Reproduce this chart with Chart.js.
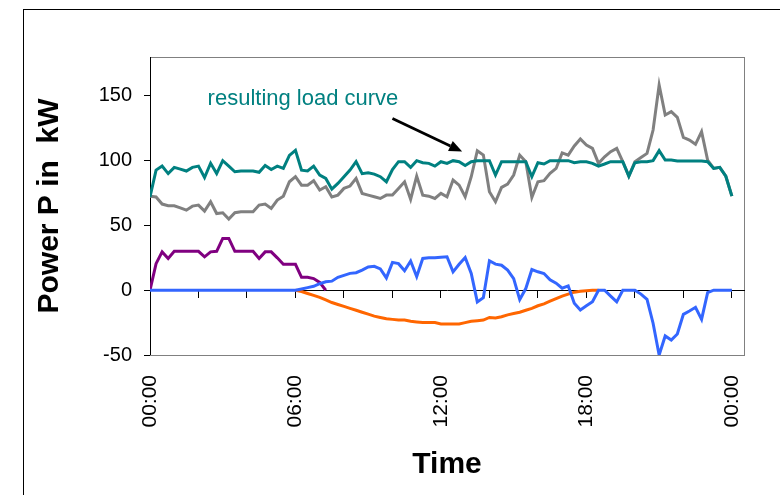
<!DOCTYPE html>
<html>
<head>
<meta charset="utf-8">
<script src="https://cdn.jsdelivr.net/npm/chart.js@4.4.1/dist/chart.umd.min.js"></script>
<style>
  html, body { margin: 0; padding: 0; background: #fff; }
  .wrap { position: relative; width: 780px; height: 495px; overflow: hidden; }
  .wrap canvas { position: absolute; left: 0; top: 0; }
  .frame { position: absolute; left: 23px; top: 9px; width: 800px; height: 520px;
           border-left: 1px solid #000; border-top: 1px solid #000; pointer-events: none; }
</style>
</head>
<body>
<div class="wrap">
  <canvas id="loadChart" width="780" height="495"></canvas>
  <div class="frame"></div>
</div>
<script>
// x = quarter hours from 00:00 (0..96)
const xTickPos = [0, 24, 48, 72, 96];
const xTickLabels = ['00:00', '06:00', '12:00', '18:00', '00:00'];
const yTicks = [-50, 0, 50, 100, 150];

// resulting load curve (teal)
const resultingLoad = [
  72, 92.7, 95.8, 90, 94.8, 93.5, 92, 94.8, 95.8, 87, 98, 90, 100, 95.8, 91.4, 92,
  92, 92, 91, 96.3, 93.2, 95.8, 94, 104, 108, 92.7, 92, 95.8, 88.9, 86.3, 78, 82.4,
  87.6, 92.7, 99.2, 90, 90.7, 89.6, 87.6, 83.7, 93.2, 99.2, 99.2, 94.8, 100, 98.4, 97.9, 95.8,
  99.2, 97.9, 100, 99.2, 96.3, 99.2, 100, 100, 100, 88.9, 99.2, 99.2, 99.2, 99.2, 99.2, 87.6,
  98.4, 97.4, 100, 100, 100, 100, 98.4, 99.2, 99.2, 97.9, 95.8, 97.4, 99.2, 99.2, 99.2, 88,
  98.4, 99.2, 99.2, 100, 107.7, 100.5, 100.5, 99.7, 99.7, 99.7, 99.7, 99.7, 99.2, 94, 94.8, 88,
  72.6
];
// original load (gray)
const baseLoad = [
  72.6, 72, 66.5, 65.2, 65.2, 63.6, 61.8, 64.9, 65.7, 61, 68.3, 59.2, 59.8, 54.9, 59.8, 60.5,
  60.5, 60.5, 65.7, 66.5, 63.1, 69.6, 72.6, 83.7, 87.6, 81.1, 81.1, 84.5, 77.3, 79.9, 72, 73.4,
  78.6, 80.4, 86.3, 74.7, 73.4, 72.1, 70.8, 73.4, 73.4, 78.6, 83.7, 70.1, 88.1, 73.4, 72.6, 70.8,
  74.7, 72.1, 85, 81.1, 72.1, 87.6, 107.7, 104.3, 76, 68.3, 79.4, 81.9, 88.9, 104.3, 99.2, 71.6,
  83.7, 84.5, 90.2, 94, 106, 104.3, 111.3, 116.7, 112, 109.5, 97.9, 103, 106.9, 109.5, 99.2, 88,
  99.2, 102.5, 105.6, 123.6, 158.4, 135.2, 137.8, 133.4, 118, 115.9, 112.6, 122.4, 100.5, 94, 94.8, 88,
  72.6
];
// storage (blue)
const storage = [
  0, 0, 0, 0, 0, 0, 0, 0, 0, 0, 0, 0, 0, 0, 0, 0,
  0, 0, 0, 0, 0, 0, 0, 0, 0, 1, 2, 3, 5, 6.5, 7, 10,
  11.5, 13, 13.5, 15.5, 18, 18.5, 16.5, 9.5, 21.5, 20.5, 15, 22.5, 10.5, 24.5, 25, 25,
  25.5, 25.8, 14.2, 20, 25.2, 12.9, -9, -5.7, 22.7, 20.1, 19.3, 15.5, 9, -7.2, 1.3, 16,
  14.2, 12.9, 8, 5.4, 1.5, 3.3, -10, -15.2, -12, -8.8, 0, 0, -4.5, -9, 0, 0,
  0, -3, -7, -25.5, -50, -35.3, -38.4, -33.8, -18.6, -16, -13.2, -22.5, -1.8, 0, 0, 0,
  0
];
// night charging (purple), 00:00 - 07:15
const nightCharge = [
  0, 20.5, 29.6, 24.5, 30, 30, 30, 30, 30, 25.8, 29.6, 30, 40, 40, 30, 30,
  30, 30, 24.5, 29.6, 29.6, 25, 20, 20, 20, 10, 10, 9, 6, 0
];
// PV (orange), starts 06:00
const pvStart = 24;
const pv = [
  0, -1, -2.5, -4, -5.5, -7.5, -9.5, -11, -12.5, -14, -15.5, -17, -18.5, -20, -21, -22,
  -22.5, -23, -23, -24, -24.5, -25, -25, -25, -26, -26, -26, -26, -25, -24, -23.5, -23,
  -21, -21.5, -20.5, -19, -18, -17, -15.5, -14, -12, -10.5, -8.5, -6.5, -4.5, -3, -1.5, -0.8,
  -0.4, -0.1, 0
];

const noteText = 'resulting load curve';
const notePos = { x: 9.5, y: 148 };
const arrowFrom = { x: 40, y: 132.5 };
const arrowTo = { x: 51.5, y: 107 };

const family = 'Arial, "Liberation Sans", sans-serif';
const toPoints = (arr, start = 0) => arr.map((v, i) => ({ x: start + i, y: v }));

// gray plot border (top/right/bottom)
const plotBorder = {
  id: 'plotBorder',
  beforeDraw(chart) {
    const { ctx, chartArea: a } = chart;
    ctx.save();
    ctx.strokeStyle = '#808080';
    ctx.lineWidth = 1;
    ctx.strokeRect(a.left + 0.5, a.top + 0.5, a.right - a.left, a.bottom - a.top);
    ctx.restore();
  }
};

// text + arrow
const noteArrow = {
  id: 'noteArrow',
  afterDatasetsDraw(chart) {
    const { ctx, scales: { x, y } } = chart;
    ctx.save();
    ctx.fillStyle = '#008080';
    ctx.font = '22px ' + family;
    ctx.textAlign = 'left';
    ctx.textBaseline = 'middle';
    ctx.fillText(noteText, x.getPixelForValue(notePos.x), y.getPixelForValue(notePos.y));

    const x1 = x.getPixelForValue(arrowFrom.x), y1 = y.getPixelForValue(arrowFrom.y);
    const x2 = x.getPixelForValue(arrowTo.x), y2 = y.getPixelForValue(arrowTo.y);
    const ang = Math.atan2(y2 - y1, x2 - x1);
    const head = 13;
    ctx.strokeStyle = '#000';
    ctx.fillStyle = '#000';
    ctx.lineWidth = 2.8;
    ctx.beginPath();
    ctx.moveTo(x1, y1);
    ctx.lineTo(x2 - head * Math.cos(ang), y2 - head * Math.sin(ang));
    ctx.stroke();
    ctx.beginPath();
    ctx.moveTo(x2, y2);
    ctx.lineTo(x2 - head * Math.cos(ang) + 5.5 * Math.sin(ang), y2 - head * Math.sin(ang) - 5.5 * Math.cos(ang));
    ctx.lineTo(x2 - head * Math.cos(ang) - 5.5 * Math.sin(ang), y2 - head * Math.sin(ang) + 5.5 * Math.cos(ang));
    ctx.closePath();
    ctx.fill();
    ctx.restore();
  }
};

const line = (data, color) => ({
  data, borderColor: color, borderWidth: 3, pointRadius: 0, tension: 0,
  fill: false, xAxisID: 'x', yAxisID: 'y'
});

new Chart(document.getElementById('loadChart'), {
  type: 'line',
  data: {
    datasets: [
      line(toPoints(resultingLoad), '#008080'),
      line(toPoints(baseLoad), '#808080'),
      line(toPoints(storage), '#3366ff'),
      line(toPoints(nightCharge), '#800080'),
      line(toPoints(pv, pvStart), '#ff6600')
    ]
  },
  options: {
    responsive: false,
    animation: false,
    layout: { padding: { left: 0, top: 57, right: 36, bottom: 0 } },
    plugins: { legend: { display: false }, tooltip: { enabled: false } },
    scales: {
      y: {
        min: -50, max: 180,
        afterBuildTicks: s => { s.ticks = yTicks.map(v => ({ value: v })); },
        afterFit: s => { s.width = 150; },
        grid: { drawOnChartArea: false, tickLength: 6, color: '#000' },
        border: { color: '#000', width: 1 },
        ticks: { color: '#000', padding: 12, font: { size: 20, family } },
        title: {
          display: true, text: 'Power P in  kW', color: '#000',
          font: { size: 30, weight: 'bold', family }, padding: { top: 32, bottom: 0 }
        }
      },
      // zero line with 2h tick marks
      x: {
        type: 'linear', position: { y: 0 }, min: 0, max: 98,
        afterBuildTicks: s => { s.ticks = Array.from({ length: 13 }, (_, k) => ({ value: k * 8 })); },
        afterFit: s => { s.height = 0; },
        grid: { drawOnChartArea: false, tickLength: 7, color: '#000' },
        border: { color: '#000', width: 1 },
        ticks: { display: false }
      },
      // bottom labels
      x2: {
        type: 'linear', position: 'bottom', min: 0, max: 98,
        afterBuildTicks: s => { s.ticks = xTickPos.map(v => ({ value: v })); },
        afterFit: s => { s.height = 140; },
        grid: { drawOnChartArea: false, drawTicks: false },
        border: { color: '#808080', width: 1 },
        ticks: {
          autoSkip: false, minRotation: 90, maxRotation: 90, padding: 20,
          color: '#000', font: { size: 21, family },
          callback: (v, i) => xTickLabels[i]
        },
        title: {
          display: true, text: 'Time', color: '#000',
          font: { size: 30, weight: 'bold', family }, padding: { top: 0, bottom: 12 }
        }
      }
    }
  },
  plugins: [plotBorder, noteArrow]
});
</script>
</body>
</html>
